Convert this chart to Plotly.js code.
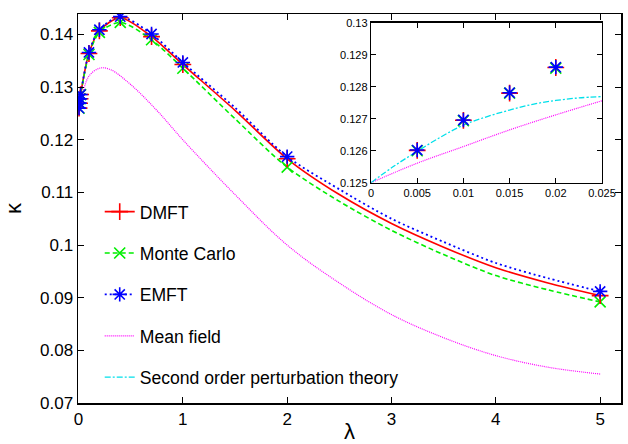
<!DOCTYPE html>
<html><head><meta charset="utf-8">
<script src="https://cdn.plot.ly/plotly-3.0.1.min.js"></script>
<style>html,body{margin:0;padding:0;background:#fff}#chart{width:628px;height:444px}</style>
</head><body><div id="chart"></div>
<script>
// ---- data ----
const lambdaPts = [0.005, 0.01, 0.015, 0.02, 0.1, 0.2, 0.4, 0.7, 1, 2, 5];
const dmftPts   = [0.12601, 0.12695, 0.12780, 0.12860, 0.1364, 0.1407, 0.1432, 0.1396, 0.1343, 0.1164, 0.0904];
const mcPts     = [0.12600, 0.12694, 0.12780, 0.12858, 0.1362, 0.1404, 0.1423, 0.1390, 0.1336, 0.1148, 0.0892];
const emftPts   = [0.12602, 0.12696, 0.12781, 0.12861, 0.1366, 0.1409, 0.1434, 0.1401, 0.1347, 0.1168, 0.0912];

const lambdaCurve = [0.005, 0.01, 0.015, 0.02, 0.1, 0.2, 0.4, 0.7, 1, 1.5, 2, 2.5, 3, 3.5, 4, 4.5, 5];
const dmftCurve   = [0.12601, 0.12695, 0.12780, 0.12860, 0.1364, 0.1407, 0.1432, 0.1396, 0.1343, 0.1256, 0.1164, 0.1096, 0.1041, 0.0996, 0.0957, 0.0928, 0.0904];
const mcCurve     = [0.12600, 0.12694, 0.12780, 0.12858, 0.1362, 0.1404, 0.1423, 0.1390, 0.1336, 0.1240, 0.1148, 0.1083, 0.1028, 0.0982, 0.0942, 0.0915, 0.0892];
const emftCurve   = [0.12602, 0.12696, 0.12781, 0.12861, 0.1366, 0.1409, 0.1434, 0.1401, 0.1347, 0.1261, 0.1168, 0.1106, 0.1050, 0.1006, 0.0966, 0.0937, 0.0912];

const lambdaMF  = [0, 0.005, 0.01, 0.015, 0.02, 0.025, 0.05, 0.1, 0.2, 0.3, 0.5, 0.75, 1, 1.5, 2, 2.5, 3, 3.5, 4, 4.5, 5];
const meanField = [0.125, 0.12561, 0.12613, 0.12665, 0.12712, 0.12756, 0.1296, 0.1321, 0.1336, 0.1334, 0.1305, 0.1256, 0.1200, 0.1096, 0.1000, 0.0928, 0.0868, 0.0824, 0.0790, 0.0768, 0.0755];

const lambdaPT    = [0, 0.0025, 0.005, 0.0075, 0.01, 0.0125, 0.015, 0.0175, 0.02, 0.0225, 0.025];
const secondOrder = [0.125, 0.12552, 0.12598, 0.12642, 0.12680, 0.12706, 0.12727, 0.12745, 0.12757, 0.12765, 0.12769];

const xTicks = [0, 1, 2, 3, 4, 5];
const xTickText = ['0', '1', '2', '3', '4', '5'];
const yTicks = [0.07, 0.08, 0.09, 0.1, 0.11, 0.12, 0.13, 0.14];
const yTickText = ['0.07', '0.08', '0.09', '0.1', '0.11', '0.12', '0.13', '0.14'];
const x2Ticks = [0, 0.005, 0.01, 0.015, 0.02, 0.025];
const x2TickText = ['0', '0.005', '0.01', '0.015', '0.02', '0.025'];
const y2Ticks = [0.125, 0.126, 0.127, 0.128, 0.129, 0.13];
const y2TickText = ['0.125', '0.126', '0.127', '0.128', '0.129', '0.13'];

const names = ['DMFT', 'Monte Carlo', 'EMFT', 'Mean field', 'Second order perturbation theory'];

// ---- styles ----
const RED = '#ff0000', GREEN = '#00ee00', BLUE = '#0000ff', MAG = '#ff00ff', CYAN = '#00e0ea';
const sDMFT = {line: {color: RED, width: 1.6, dash: 'solid'}, marker: {symbol: 'cross-thin-open', size: 12, color: RED, line: {color: RED, width: 1.6}}};
const sMC   = {line: {color: GREEN, width: 1.6, dash: '5px,3px'}, marker: {symbol: 'x-thin-open', size: 11, color: GREEN, line: {color: GREEN, width: 1.6}}};
const sEMFT = {line: {color: BLUE, width: 1.8, dash: '2px,3px'}, marker: {symbol: 'asterisk-open', size: 12, color: BLUE, line: {color: BLUE, width: 1.6}}};

const traces = [];
function legendEntry(name, s, group) {
  traces.push({x: [null], y: [null], type: 'scatter', mode: 'lines+markers', name: name, legendgroup: group,
    line: s.line, marker: s.marker, hoverinfo: 'skip'});
}
legendEntry(names[0], sDMFT, 'g1');
legendEntry(names[1], sMC, 'g2');
legendEntry(names[2], sEMFT, 'g3');
traces.push({x: lambdaMF, y: meanField, type: 'scatter', mode: 'lines', name: names[3], legendgroup: 'g4',
  line: {color: MAG, width: 1.2, dash: '1px,1px', shape: 'spline'}});
traces.push({x: lambdaPT, y: secondOrder, type: 'scatter', mode: 'lines', name: names[4], legendgroup: 'g5',
  line: {color: CYAN, width: 1.3, dash: '6px,2px,2px,2px', shape: 'spline'}});

// main curves
[[dmftCurve, sDMFT], [mcCurve, sMC], [emftCurve, sEMFT]].forEach(([yy, s]) => {
  traces.push({x: lambdaCurve, y: yy, type: 'scatter', mode: 'lines', showlegend: false,
    line: Object.assign({}, s.line, {shape: 'spline', smoothing: 0.8})});
});
// main markers
[[mcPts, sMC], [dmftPts, sDMFT], [emftPts, sEMFT]].forEach(([yy, s]) => {
  traces.push({x: lambdaPts, y: yy, type: 'scatter', mode: 'markers', showlegend: false, marker: s.marker});
});

// inset
const inMF = lambdaMF.map((v, i) => [v, meanField[i]]).filter(p => p[0] <= 0.025);
traces.push({x: inMF.map(p => p[0]), y: inMF.map(p => p[1]), xaxis: 'x2', yaxis: 'y2', type: 'scatter', mode: 'lines', showlegend: false,
  line: {color: MAG, width: 1.2, dash: '1px,1px', shape: 'spline'}});
traces.push({x: lambdaPT, y: secondOrder, xaxis: 'x2', yaxis: 'y2', type: 'scatter', mode: 'lines', showlegend: false,
  line: {color: CYAN, width: 1.3, dash: '6px,2px,2px,2px', shape: 'spline'}});
[[mcPts, sMC], [dmftPts, sDMFT], [emftPts, sEMFT]].forEach(([yy, s]) => {
  const xs = [], ys = [];
  lambdaPts.forEach((v, i) => { if (v <= 0.025) { xs.push(v); ys.push(yy[i]); } });
  traces.push({x: xs, y: ys, xaxis: 'x2', yaxis: 'y2', type: 'scatter', mode: 'markers', showlegend: false, marker: s.marker});
});

const axBase = {showline: true, linecolor: '#000', linewidth: 1.5, mirror: 'ticks', ticks: 'inside',
  tickcolor: '#000', showgrid: false, zeroline: false, tickmode: 'array'};

const layout = {
  width: 628, height: 444,
  margin: {l: 78, r: 7, t: 14, b: 41},
  paper_bgcolor: '#fff', plot_bgcolor: '#fff',
  font: {family: 'Liberation Sans, Arial, sans-serif', color: '#000'},
  showlegend: true,
  legend: {x: 0.040, y: 0.538, xanchor: 'left', yanchor: 'top', bgcolor: 'rgba(0,0,0,0)',
    font: {size: 17.6}, tracegroupgap: 15.5, traceorder: 'grouped'},
  xaxis: Object.assign({}, axBase, {domain: [0, 1], range: [-0.005, 5.2], tickvals: xTicks, ticktext: xTickText,
    ticklen: 6, tickfont: {size: 17}, title: {text: 'λ', font: {size: 22}, standoff: 6}}),
  yaxis: Object.assign({}, axBase, {domain: [0, 1], range: [0.07, 0.1439], tickvals: yTicks, ticktext: yTickText,
    ticklen: 6, tickfont: {size: 17}, title: {text: 'κ', font: {size: 22}, standoff: 12}}),
  xaxis2: Object.assign({}, axBase, {domain: [0.5396, 0.965], anchor: 'y2', range: [0, 0.025], tickvals: x2Ticks,
    ticktext: x2TickText, ticklen: 5, linewidth: 1.2, tickfont: {size: 11}}),
  yaxis2: Object.assign({}, axBase, {domain: [0.5663, 0.9777], anchor: 'x2', range: [0.125, 0.13], tickvals: y2Ticks,
    ticktext: y2TickText, ticklen: 5, linewidth: 1.2, tickfont: {size: 11}})
};

Plotly.newPlot('chart', traces, layout, {staticPlot: true, displayModeBar: false});
</script>
</body></html>
